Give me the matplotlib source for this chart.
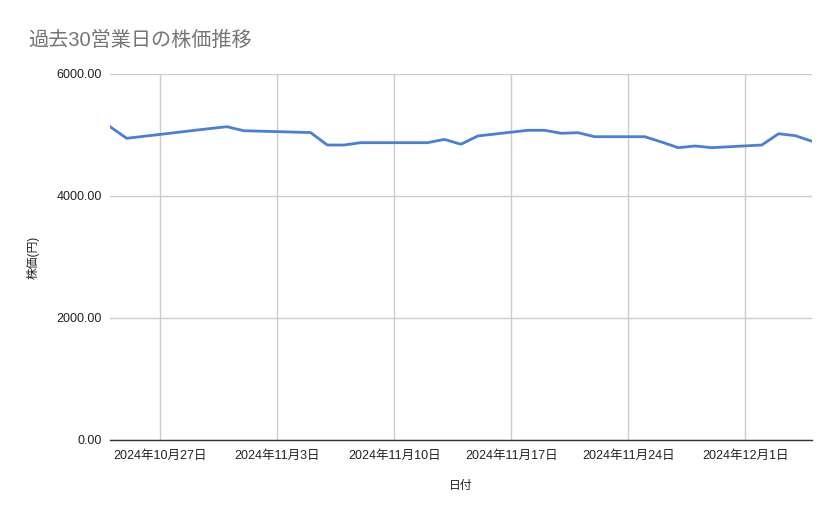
import matplotlib
matplotlib.use("Agg")
import matplotlib.pyplot as plt
import pandas as pd

plt.rcParams['font.family'] = ['Liberation Sans', 'Noto Sans CJK JP', 'DejaVu Sans']

dates = ["2024-10-24", "2024-10-25", "2024-10-28", "2024-10-29", "2024-10-30",
         "2024-10-31", "2024-11-01", "2024-11-05", "2024-11-06", "2024-11-07",
         "2024-11-08", "2024-11-11", "2024-11-12", "2024-11-13", "2024-11-14",
         "2024-11-15", "2024-11-18", "2024-11-19", "2024-11-20", "2024-11-21",
         "2024-11-22", "2024-11-25", "2024-11-26", "2024-11-27", "2024-11-28",
         "2024-11-29", "2024-12-02", "2024-12-03", "2024-12-04", "2024-12-05"]
prices = [5136, 4946, 5042, 5075, 5106,
          5136, 5070, 5040, 4836, 4836,
          4874, 4874, 4874, 4928, 4848,
          4984, 5077, 5077, 5028, 5038,
          4972, 4972, 4885, 4792, 4820,
          4792, 4836, 5021, 4989, 4897]
tick_dates = ["2024-10-27", "2024-11-03", "2024-11-10", "2024-11-17", "2024-11-24", "2024-12-01"]
tick_labels = ["2024年10月27日", "2024年11月3日", "2024年11月10日", "2024年11月17日", "2024年11月24日", "2024年12月1日"]
y_ticks = [0, 2000, 4000, 6000]
y_tick_labels = ["0.00", "2000.00", "4000.00", "6000.00"]

x = pd.to_datetime(dates)
xt = pd.to_datetime(tick_dates)

fig = plt.figure(figsize=(8.39, 5.19), dpi=100)
ax = fig.add_axes([110/839, 1-440/519, 702/839, 366/519])

ax.plot(x, prices, color='#4a7fd8', linewidth=2, solid_joinstyle='round', zorder=3)

ax.set_xlim(x[0], x[-1])
ax.set_ylim(0, 6000)
ax.set_xticks(xt)
ax.set_xticklabels(tick_labels)
ax.set_yticks(y_ticks)
ax.set_yticklabels(y_tick_labels)

ax.grid(True, color='#cccccc', linewidth=1)
ax.set_axisbelow(True)
for s in ['top', 'right', 'left']:
    ax.spines[s].set_visible(False)
ax.spines['bottom'].set_color('#333333')
ax.spines['bottom'].set_linewidth(1)
ax.spines['bottom'].set_zorder(4)

ax.tick_params(axis='x', length=0, pad=7, labelsize=9, labelcolor='#222222')
ax.tick_params(axis='y', length=0, pad=6, labelsize=9, labelcolor='#222222')

ax.set_xlabel("日付", fontsize=8.5, color='#222222', labelpad=13)
ax.set_ylabel("株価(円)", fontsize=8.5, color='#222222', labelpad=12)

fig.text(28/839, 1-40/519, "過去30営業日の株価推移", fontsize=14.5, color='#757575',
         va='center', ha='left')

fig.savefig("out.png", dpi=100)
